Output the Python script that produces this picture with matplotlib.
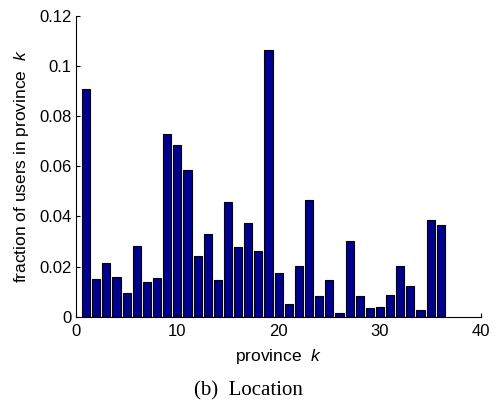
import matplotlib
matplotlib.use("Agg")
import matplotlib.pyplot as plt
import numpy as np

provinces = list(range(1, 37))
fractions = [0.0907, 0.0149, 0.0215, 0.0160, 0.0093, 0.0282, 0.0137, 0.0154, 0.0728, 0.0683,
             0.0585, 0.0242, 0.0328, 0.0145, 0.0456, 0.0279, 0.0372, 0.0262, 0.1063, 0.0175,
             0.0049, 0.0201, 0.0465, 0.0081, 0.0148, 0.0015, 0.0300, 0.0084, 0.0036, 0.0039,
             0.0086, 0.0202, 0.0122, 0.0027, 0.0384, 0.0366]
xticks = [0, 10, 20, 30, 40]
yticks = [0, 0.02, 0.04, 0.06, 0.08, 0.1, 0.12]
yticklabels = ["0", "0.02", "0.04", "0.06", "0.08", "0.1", "0.12"]

plt.rcParams['font.family'] = ['Liberation Sans', 'DejaVu Sans']
plt.rcParams['mathtext.fontset'] = 'custom'
plt.rcParams['mathtext.it'] = 'Liberation Sans:italic'
plt.rcParams['mathtext.rm'] = 'Liberation Sans'

fig = plt.figure(figsize=(4.96, 4.00), dpi=100)
ax = fig.add_axes([0.1532, 0.2083, 0.8172, 0.7525])
ax.bar(provinces, fractions, width=0.8, color='#00008F', edgecolor='black', linewidth=0.8)
ax.set_xlim(0, 40)
ax.set_ylim(0, 0.12)
ax.set_xticks(xticks)
ax.set_yticks(yticks)
ax.set_yticklabels(yticklabels)
ax.tick_params(direction='in', labelsize=12, length=3, width=0.8)
ax.tick_params(axis='y', pad=3)
ax.tick_params(axis='x', pad=5)
for s in ['top', 'right']:
    ax.spines[s].set_visible(False)
for s in ['left', 'bottom']:
    ax.spines[s].set_linewidth(0.8)
ax.set_xlabel("province  $k$", fontsize=12.5)
ax.set_ylabel("fraction of users in province  $k$", fontsize=12.5)
ax.xaxis.set_label_coords(0.5, -0.1)
ax.yaxis.set_label_coords(-0.11, 0.5)
fig.text(0.5, 0.024, "(b)  Location", ha='center', va='center', fontsize=15,
         family=['Liberation Serif', 'DejaVu Serif'])
fig.savefig("out.png", dpi=100)
